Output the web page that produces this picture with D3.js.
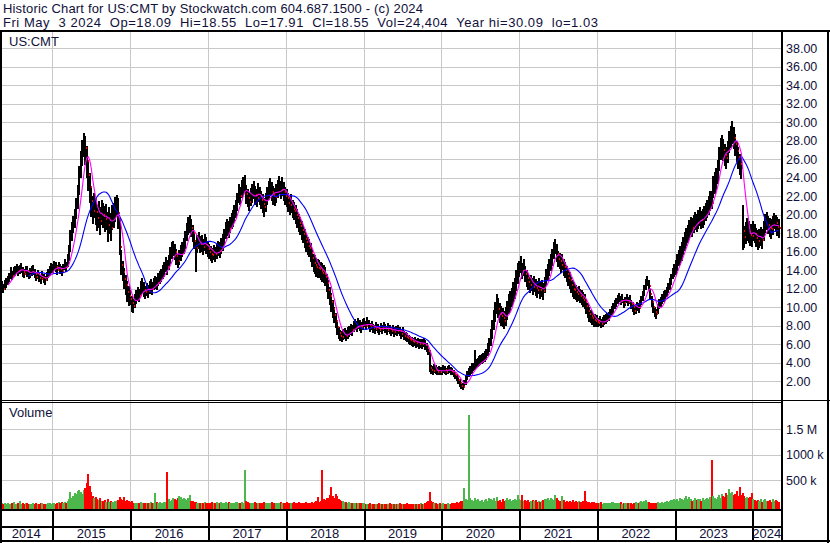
<!DOCTYPE html>
<html>
<head>
<meta charset="utf-8">
<script src="https://cdn.jsdelivr.net/npm/d3@7"></script>
<style>
  body { margin: 0; background: #fff; }
  svg { display: block; font-family: "Liberation Sans", Arial, sans-serif; }
  .lbl { fill: #10103a; }
</style>
</head>
<body>
<div id="chart"></div>
<script>
// weekly bars, Fridays from 2 May 2014 to 3 May 2024 (one line per calendar year)
var weekClose = [
  12.1,12.3,12.0,12.4,12.6,12.9,13.2,13.6,13.4,13.8,13.9,14.2,13.9,14.1,14.3,13.8,13.6,14.0,13.9,13.5,13.7,13.9,14.1,13.6,13.3,13.5,13.2,13.0,13.4,13.1,12.9,13.3,13.6,13.9,14.2,
  14.2,14.5,14.3,14.0,14.4,14.1,13.9,14.2,14.6,14.3,15.0,15.8,17.2,18.3,18.9,19.5,20.6,21.9,23.8,25.6,26.8,27.9,27.2,25.8,24.3,23.0,21.5,20.4,21.2,20.3,19.6,20.1,19.3,20.4,20.0,19.5,19.8,18.9,19.4,18.6,19.7,19.9,20.6,21.0,20.2,16.5,14.6,13.8,13.0,12.4,11.6,11.2,
  10.9,10.4,10.1,10.6,11.0,11.4,11.2,12.0,12.3,11.9,11.6,11.9,11.7,12.1,12.3,12.0,12.5,12.7,12.6,13.0,13.2,13.4,13.8,14.1,14.6,14.3,14.8,15.6,16.1,16.4,16.0,15.5,15.0,15.4,15.9,16.2,16.6,17.2,18.1,18.8,19.0,18.6,18.0,17.2,16.4,16.9,17.2,16.8,16.9,16.5,17.0,16.7,16.3,
  16.0,15.8,15.6,15.9,15.7,16.0,16.3,16.1,16.6,17.0,17.6,18.3,18.6,18.4,18.9,19.3,19.6,20.1,20.6,21.4,22.3,22.0,22.8,23.1,23.4,22.2,21.8,21.4,21.9,22.3,22.7,22.1,21.8,22.4,22.0,21.6,21.2,20.8,21.3,22.0,22.6,23.0,22.5,22.1,21.9,22.3,22.8,23.2,22.7,23.0,22.5,22.0,
  21.8,21.3,21.0,21.2,20.6,20.4,20.0,19.6,19.1,18.8,18.3,17.9,17.4,17.0,16.6,16.4,15.9,15.3,14.8,14.6,14.3,14.2,14.1,13.9,13.7,13.6,13.3,12.6,11.9,11.2,10.5,9.8,9.1,8.5,7.8,7.2,6.9,6.8,7.0,7.1,6.9,7.2,7.4,7.6,7.5,7.9,8.1,7.9,8.2,8.0,7.8,8.1,
  8.3,8.0,8.4,8.1,7.8,8.0,7.7,7.6,7.9,7.7,7.5,7.8,7.6,7.9,7.7,7.5,7.8,7.6,7.4,7.6,7.3,7.5,7.4,7.6,7.4,7.1,7.3,6.9,6.8,6.7,6.5,6.4,6.3,6.2,6.3,6.1,6.2,6.0,6.1,6.0,6.2,5.9,5.6,5.2,3.4,3.2,3.1,3.3,3.2,3.0,3.1,3.0,
  3.1,3.3,3.2,3.0,3.2,3.3,3.1,3.0,2.8,2.6,2.4,2.1,1.8,1.5,1.3,1.6,2.0,2.5,2.8,3.0,3.2,3.5,3.6,3.8,3.9,4.1,4.2,4.3,4.4,4.6,4.8,5.3,5.8,6.6,7.5,8.5,9.4,10.2,9.8,9.3,9.0,8.8,8.5,8.9,9.6,10.3,10.6,11.0,11.5,12.0,12.8,13.6,
  14.2,14.6,13.9,14.3,13.6,13.1,12.7,12.4,12.6,12.2,12.5,12.1,11.9,12.3,11.8,12.0,11.7,12.4,13.2,13.8,14.3,14.8,15.3,16.1,16.6,15.8,15.2,15.0,14.6,14.9,14.3,14.0,13.6,13.2,12.9,12.4,12.0,11.8,11.6,11.4,11.5,11.2,11.0,10.8,10.6,10.1,9.6,9.2,9.0,8.8,8.6,8.5,8.4,
  8.3,8.5,8.2,8.4,8.6,8.7,8.9,9.0,9.3,9.6,9.9,10.3,10.5,10.8,11.0,10.7,10.9,10.4,10.6,10.9,10.6,10.8,10.3,10.0,9.6,9.8,10.1,9.9,10.3,10.7,11.2,11.8,12.4,12.9,12.3,11.4,10.6,10.0,9.5,9.3,9.8,10.4,10.6,10.9,11.2,11.3,11.7,12.1,12.5,13.0,13.6,14.0,
  14.3,14.8,15.3,15.6,16.0,16.6,17.1,17.6,17.9,18.4,18.8,18.6,19.0,19.3,19.1,19.5,19.8,19.4,19.6,19.9,20.3,20.6,21.0,21.5,21.3,23.0,23.4,23.9,24.6,26.0,27.1,27.4,27.0,26.5,26.1,26.8,27.9,28.4,28.9,28.3,27.6,26.9,26.2,25.5,25.1,18.2,17.6,18.0,18.4,18.1,17.8,17.7,
  18.2,17.9,17.5,17.2,17.4,17.6,17.3,18.2,19.0,19.3,18.9,18.6,18.4,18.8,19.4,19.1,18.7,18.55
];
var weekHigh = [
  12.6,12.8,12.5,12.9,13.1,13.4,13.7,14.3,13.9,14.3,14.5,14.7,14.4,14.6,14.8,14.3,14.1,14.5,14.4,14.0,14.2,14.4,14.6,14.1,13.8,14.0,13.7,13.5,13.9,13.6,13.4,13.8,14.1,14.4,14.8,
  14.7,15.0,14.9,14.6,14.9,14.7,14.5,14.7,15.2,14.9,15.8,16.7,18.3,19.2,19.9,20.6,21.8,23.2,25.3,26.9,28.1,28.8,28.5,27.4,25.9,24.5,23.1,22.0,22.4,21.8,21.0,21.5,20.8,21.6,21.3,20.9,21.2,20.3,20.8,20.2,21.0,21.3,21.9,22.1,21.8,19.8,16.2,15.0,14.2,13.5,12.8,12.3,
  11.8,11.2,10.9,11.4,11.8,12.2,12.0,12.8,13.1,12.7,12.3,12.6,12.4,12.8,13.0,12.7,13.2,13.4,13.3,13.7,13.9,14.1,14.6,14.9,15.4,15.1,15.6,16.5,17.0,17.2,16.8,16.3,15.8,16.2,16.7,17.0,17.5,18.2,19.1,19.8,20.0,19.5,18.9,18.1,17.3,17.8,18.1,17.7,17.8,17.4,17.9,17.6,17.1,
  16.8,16.6,16.4,16.7,16.5,16.8,17.1,17.0,17.5,17.9,18.5,19.2,19.5,19.3,19.8,20.2,20.5,21.0,21.6,22.4,23.3,23.0,23.8,24.1,24.3,23.2,22.8,22.4,22.9,23.3,23.7,23.1,22.8,23.4,23.0,22.6,22.2,21.8,22.3,23.0,23.6,24.0,23.5,23.1,22.9,23.3,23.8,24.2,23.7,24.1,23.5,23.0,
  22.8,22.3,22.0,22.2,21.6,21.4,21.0,20.6,20.1,19.8,19.3,18.9,18.4,18.0,17.6,17.4,16.9,16.3,15.8,15.6,15.3,15.2,15.1,14.9,14.8,14.6,14.3,13.6,12.9,12.2,11.5,10.8,10.0,9.4,8.6,7.9,7.5,7.4,7.6,7.7,7.5,7.8,8.0,8.2,8.1,8.5,8.7,8.5,8.8,8.6,8.4,8.7,
  8.8,8.5,8.9,8.6,8.3,8.5,8.2,8.1,8.4,8.2,8.0,8.3,8.1,8.4,8.2,8.0,8.3,8.1,7.9,8.1,7.8,8.0,7.9,8.1,7.9,7.6,7.8,7.4,7.3,7.2,7.0,6.9,6.8,6.7,6.8,6.6,6.7,6.5,6.6,6.5,6.7,6.4,6.1,5.8,5.4,3.7,3.6,3.8,3.7,3.5,3.6,3.5,
  3.5,3.7,3.6,3.4,3.6,3.7,3.5,3.4,3.2,3.0,2.8,2.5,2.2,1.9,1.8,2.1,2.6,3.1,3.4,3.6,3.9,3.9,5.4,4.4,4.5,4.7,4.8,4.9,5.0,5.2,5.5,6.1,6.7,7.6,8.6,9.7,10.6,11.4,11.0,10.4,10.1,9.9,9.6,10.0,10.7,11.4,11.7,12.1,12.7,13.2,14.0,14.8,
  15.0,15.5,14.8,15.2,14.5,14.0,13.6,13.3,13.5,13.1,13.4,13.0,12.8,13.2,12.7,12.9,12.6,13.3,14.1,14.7,15.2,15.7,16.3,17.0,17.4,16.8,16.1,15.9,15.5,15.8,15.2,14.9,14.5,14.1,13.8,13.3,12.9,12.6,12.4,12.2,12.3,12.0,11.8,11.6,11.4,10.9,10.4,10.0,9.7,9.5,9.3,9.2,9.1,
  8.8,9.0,8.7,8.9,9.1,9.2,9.4,9.5,9.8,10.1,10.4,10.8,11.0,11.3,11.5,11.2,11.4,10.9,11.1,11.4,11.1,11.3,10.8,10.5,10.1,10.3,10.6,10.4,10.8,11.2,11.7,12.4,13.0,13.4,12.9,12.0,11.2,10.6,10.0,9.8,10.3,10.9,11.1,11.4,11.7,11.8,12.2,12.6,13.1,13.6,14.2,14.7,
  15.1,15.7,16.2,16.6,17.0,17.6,18.1,18.6,18.9,19.4,19.8,19.6,20.0,20.3,20.1,20.5,20.8,20.4,20.6,20.9,21.3,21.6,22.0,22.6,22.6,24.2,24.6,25.1,25.9,27.3,28.3,28.6,28.2,27.7,27.3,28.0,29.1,29.6,30.09,29.5,28.7,28.0,27.3,26.6,26.2,21.0,18.8,19.2,19.6,19.3,19.0,19.0,
  19.3,19.0,18.6,18.3,18.5,18.7,18.4,19.3,20.1,20.3,19.9,19.6,19.5,19.9,20.2,20.0,19.7,19.5
];
var weekLow = [
  11.6,11.8,11.5,11.9,12.1,12.4,12.7,13.0,12.9,13.3,13.4,13.6,13.4,13.6,13.7,13.3,13.1,13.5,13.3,13.0,13.2,13.4,13.5,13.1,12.8,13.0,12.7,12.5,12.9,12.6,12.4,12.8,13.1,13.4,13.7,
  13.7,14.0,13.8,13.5,13.9,13.6,13.4,13.7,14.0,13.8,14.3,15.0,16.0,17.2,18.0,18.6,19.5,20.6,22.1,24.0,25.3,26.2,25.4,24.0,22.6,21.3,19.8,19.0,19.6,18.9,18.2,18.6,17.8,18.9,18.6,18.1,18.3,17.0,17.9,17.2,18.3,18.6,19.2,19.7,18.5,15.6,13.5,12.8,12.0,11.3,10.5,10.1,
  10.2,9.5,9.4,9.9,10.3,10.7,10.5,11.2,11.5,11.1,10.9,11.2,11.0,11.4,11.6,11.3,11.8,12.0,11.9,12.3,12.5,12.7,13.0,13.3,13.8,13.5,14.0,14.7,15.2,15.5,15.1,14.6,14.2,14.6,15.0,15.4,15.8,16.3,17.1,17.8,18.0,17.6,17.0,16.3,13.8,15.9,16.3,15.9,16.0,15.6,16.1,15.8,15.4,
  15.2,15.0,14.8,15.1,14.9,15.2,15.5,15.3,15.7,16.1,16.7,17.4,17.7,17.5,18.0,18.4,18.7,19.2,19.6,20.4,21.3,21.0,21.8,22.1,22.3,21.2,20.8,20.4,20.9,21.3,21.7,21.1,20.8,21.4,21.0,20.6,20.2,19.8,20.3,21.0,21.6,22.0,21.5,21.1,20.9,21.3,21.8,22.2,21.7,22.0,21.5,21.0,
  20.8,20.3,20.0,20.2,19.6,19.4,19.0,18.6,18.1,17.8,17.3,16.9,16.4,16.0,15.6,15.4,14.9,14.3,13.8,13.6,13.3,13.2,13.1,12.9,12.7,12.6,12.3,11.6,10.9,10.2,9.5,8.8,8.3,7.7,7.0,6.5,6.3,6.2,6.4,6.5,6.3,6.6,6.8,7.0,6.9,7.3,7.5,7.3,7.6,7.4,7.2,7.5,
  7.8,7.5,7.9,7.6,7.3,7.5,7.2,7.1,7.4,7.2,7.0,7.3,7.1,7.4,7.2,7.0,7.3,7.1,6.9,7.1,6.8,7.0,6.9,7.1,6.9,6.6,6.8,6.4,6.3,6.2,6.0,5.9,5.8,5.7,5.8,5.6,5.7,5.5,5.6,5.5,5.7,5.4,5.1,4.8,3.0,2.8,2.7,2.9,2.8,2.6,2.7,2.6,
  2.7,2.9,2.8,2.6,2.8,2.9,2.7,2.6,2.4,2.2,2.0,1.7,1.4,1.1,1.03,1.2,1.6,2.1,2.4,2.6,2.8,3.1,3.2,3.4,3.5,3.6,3.7,3.8,3.9,4.1,4.3,4.7,5.1,5.8,6.6,7.5,8.4,9.2,8.8,8.3,8.0,7.9,7.6,8.0,8.6,9.3,9.6,10.0,10.4,10.9,11.7,12.5,
  13.3,13.7,13.0,13.4,12.7,12.2,11.8,11.5,11.7,11.3,11.6,11.2,11.0,11.4,10.9,11.1,10.8,11.5,12.3,12.9,13.4,13.9,14.4,15.2,15.7,14.9,14.3,14.1,13.7,14.0,13.4,13.1,12.7,12.3,12.0,11.5,11.1,10.9,10.8,10.6,10.7,10.4,10.2,10.0,9.8,9.3,8.8,8.4,8.3,8.1,7.9,7.8,7.8,
  7.8,8.0,7.7,7.9,8.1,8.2,8.4,8.5,8.8,9.1,9.4,9.8,10.0,10.3,10.5,10.2,10.4,9.9,10.1,10.4,10.1,10.3,9.8,9.5,9.1,9.3,9.6,9.4,9.8,10.2,10.7,11.2,11.8,12.3,11.7,10.8,10.0,9.4,8.9,8.7,9.2,9.8,10.0,10.3,10.6,10.7,11.1,11.5,11.9,12.4,13.0,13.3,
  13.5,13.9,14.4,14.6,15.0,15.6,16.1,16.6,16.9,17.4,17.8,17.6,18.0,18.3,18.1,18.5,18.8,18.4,18.6,18.9,19.3,19.6,20.0,20.4,20.6,21.8,22.2,22.7,23.3,24.7,25.9,26.2,25.8,25.3,24.9,25.6,26.7,27.2,27.7,27.1,26.4,25.7,25.0,24.3,23.9,16.2,16.4,16.8,17.2,16.9,16.6,16.5,
  17.2,16.9,16.5,16.2,16.4,16.6,16.3,17.2,18.0,18.3,17.9,17.6,17.4,17.8,18.4,18.1,17.7,17.5
];
// weekly volume, thousands of shares
var weekVolume = [
  30,45,25,40,35,50,30,25,40,60,35,30,45,80,35,40,30,50,45,30,35,25,40,30,45,35,30,50,40,35,30,25,40,45,35,
  40,55,35,45,60,50,70,45,60,50,80,120,270,140,180,250,230,280,300,260,220,300,350,450,610,380,260,180,150,170,120,100,140,90,80,100,70,120,60,80,70,60,90,80,110,170,130,100,160,90,110,80,
  60,80,50,45,55,40,50,60,45,50,40,55,45,50,60,45,55,250,70,50,60,45,55,70,60,650,120,90,110,150,130,100,140,180,160,120,150,130,110,140,200,90,80,70,60,50,45,55,40,50,60,45,50,
  50,40,60,45,55,70,50,40,60,55,45,65,50,60,40,55,45,50,60,70,55,45,60,50,700,80,60,45,55,40,50,60,45,55,40,50,45,60,40,50,55,45,60,50,40,55,45,50,60,45,55,50,
  60,45,50,40,55,60,45,50,65,40,55,50,45,60,50,40,55,70,50,60,90,160,60,80,690,120,100,140,150,200,370,180,150,220,190,120,100,80,90,60,70,50,60,45,55,40,50,45,40,55,45,50,
  40,30,35,25,40,30,20,35,25,30,40,25,30,20,35,25,30,40,25,30,20,35,30,25,40,30,35,25,30,40,25,35,30,20,30,25,35,30,40,25,30,45,60,80,270,90,60,50,40,35,30,40,
  30,40,35,25,40,30,35,45,40,50,60,55,70,80,90,350,120,100,1780,150,110,90,140,100,120,80,90,110,70,100,130,90,150,120,110,140,90,160,80,100,70,120,90,110,140,100,120,90,110,130,100,200,
  120,100,200,90,110,80,100,70,90,110,80,100,70,90,60,80,100,120,130,150,110,140,120,100,215,140,110,90,80,180,100,70,90,60,80,70,100,60,90,70,80,60,70,90,280,80,70,60,50,70,60,50,40,
  50,40,60,35,45,55,40,50,45,60,70,55,40,50,45,60,35,50,40,45,55,40,50,35,45,60,40,50,70,80,60,90,100,70,60,50,45,55,40,50,60,45,50,70,55,60,80,70,90,100,110,120,
  110,130,90,150,120,100,140,180,120,160,130,90,110,150,100,130,120,90,140,110,130,150,120,160,900,180,140,120,160,200,150,220,180,170,250,200,330,240,260,200,230,280,190,370,210,250,180,150,170,140,160,250,
  120,100,90,110,80,130,70,100,120,90,80,110,70,130,90,100,80,60
];
var priceTicks = [2,4,6,8,10,12,14,16,18,20,22,24,26,28,30,32,34,36,38];
var volumeTicks = [500, 1000, 1500];
var volumeTickLabels = ["500 k", "1000 k", "1.5 M"];
var years = [2014,2015,2016,2017,2018,2019,2020,2021,2022,2023,2024];
var shortAvg = 6, longAvg = 20;

var titleLine = "Historic Chart for US:CMT by Stockwatch.com 604.687.1500 - (c) 2024";
var quoteLine = "Fri May  3 2024  Op=18.09  Hi=18.55  Lo=17.91  Cl=18.55  Vol=24,404  Year hi=30.09  lo=1.03";

var w = 830, h = 543;
var plotRight = 781;
var priceTop = 31, priceBottom = 400;
var volTop = 403, volBottom = 509;

var svg = d3.select("#chart").append("svg").attr("width", w).attr("height", h);
svg.append("rect").attr("width", w).attr("height", h).attr("fill", "#fff");

var firstWeek = new Date(2014, 4, 2);
var weeks = weekClose.map(function(c, i) {
  return {
    date: d3.timeDay.offset(firstWeek, 7 * i),
    close: c,
    high: weekHigh[i],
    low: weekLow[i],
    vol: weekVolume[i],
    up: i === 0 ? true : c >= weekClose[i - 1]
  };
});

function movingAvg(n) {
  return weeks.map(function(d, i) {
    if (i < n - 1) return null;
    return d3.mean(weekClose.slice(i - n + 1, i + 1));
  });
}
var maShort = movingAvg(shortAvg);
var maLong = movingAvg(longAvg);

var x = d3.scaleTime().domain([new Date(2014, 3, 30), new Date(2024, 4, 14)]).range([0, plotRight]);
var yPrice = d3.scaleLinear().domain([0, 40]).range([399.5, 29.9]);
var yVol = d3.scaleLinear().domain([0, 2000]).range([505.5, 403.5]);

var yearStarts = years.slice(1).map(function(y) { return x(new Date(y, 0, 1)); });

svg.append("defs").append("clipPath").attr("id", "pclip")
  .append("rect").attr("x", 0).attr("y", priceTop).attr("width", plotRight).attr("height", priceBottom - priceTop);
svg.select("defs").append("clipPath").attr("id", "vclip")
  .append("rect").attr("x", 0).attr("y", volTop).attr("width", plotRight).attr("height", volBottom - volTop);

// grid
var grid = svg.append("g").attr("stroke", "#c8c8c8").attr("shape-rendering", "crispEdges");
grid.selectAll(".hp").data(priceTicks).enter().append("line")
  .attr("x1", 0).attr("x2", plotRight)
  .attr("y1", function(d) { return Math.round(yPrice(d)) + 0.5; })
  .attr("y2", function(d) { return Math.round(yPrice(d)) + 0.5; });
grid.selectAll(".hv").data(volumeTicks).enter().append("line")
  .attr("x1", 0).attr("x2", plotRight)
  .attr("y1", function(d) { return Math.round(yVol(d)) + 0.5; })
  .attr("y2", function(d) { return Math.round(yVol(d)) + 0.5; });
grid.selectAll(".vy").data(yearStarts).enter().append("line")
  .attr("x1", function(d) { return Math.round(d) + 0.5; })
  .attr("x2", function(d) { return Math.round(d) + 0.5; })
  .attr("y1", priceTop).attr("y2", volBottom);

// price bars (high-low), then red close marks on down weeks
var bars = svg.append("g").attr("clip-path", "url(#pclip)").attr("shape-rendering", "crispEdges");
bars.selectAll(".hl").data(weeks).enter().append("rect")
  .attr("class", "hl")
  .attr("x", function(d) { return Math.round(x(d.date)) - 1; })
  .attr("y", function(d) { return Math.round(yPrice(d.high)); })
  .attr("width", 2)
  .attr("height", function(d) { return Math.max(1, Math.round(yPrice(d.low)) - Math.round(yPrice(d.high))); })
  .attr("fill", "#000");
bars.selectAll(".cl").data(weeks.filter(function(d) { return !d.up; })).enter().append("rect")
  .attr("class", "cl")
  .attr("x", function(d) { return Math.round(x(d.date)) + 1; })
  .attr("y", function(d) { return Math.round(yPrice(d.close)) - 1; })
  .attr("width", 1).attr("height", 2)
  .attr("fill", "#ff0000");

// moving averages
function maLine(vals) {
  return d3.line()
    .defined(function(d, i) { return vals[i] !== null; })
    .x(function(d) { return x(d.date); })
    .y(function(d, i) { return yPrice(vals[i]); });
}
var maG = svg.append("g").attr("clip-path", "url(#pclip)").attr("fill", "none");
maG.append("path").datum(weeks).attr("d", maLine(maLong)).attr("stroke", "#0000ff").attr("stroke-width", 1.1);
maG.append("path").datum(weeks).attr("d", maLine(maShort)).attr("stroke", "#ff00ff").attr("stroke-width", 1.1);

// volume bars
var vb = svg.append("g").attr("clip-path", "url(#vclip)").attr("shape-rendering", "crispEdges");
vb.selectAll("rect").data(weeks).enter().append("rect")
  .attr("x", function(d) { return Math.round(x(d.date)) - 1; })
  .attr("y", function(d) { return Math.round(yVol(d.vol)); })
  .attr("width", 2)
  .attr("height", function(d) { return volBottom - Math.round(yVol(d.vol)); })
  .attr("fill", function(d) { return d.up ? "#4cb84c" : "#ff0000"; });

// frame lines
var frame = svg.append("g").attr("stroke", "#000").attr("shape-rendering", "crispEdges");
function hline(y, x1, x2, sw) { frame.append("line").attr("x1", x1).attr("x2", x2).attr("y1", y).attr("y2", y).attr("stroke-width", sw); }
function vline(xp, y1, y2, sw) { frame.append("line").attr("x1", xp).attr("x2", xp).attr("y1", y1).attr("y2", y2).attr("stroke-width", sw); }
hline(31, 0, w, 2);
hline(400.5, 0, w, 1);
hline(402.5, 0, plotRight, 1);
hline(510, 0, plotRight, 2);
hline(527, 0, plotRight, 2);
hline(541, 0, w, 2);
vline(1, 30, h, 2);
vline(828, 30, h, 2);
vline(782, 30, 542, 2);
yearStarts.forEach(function(d) { vline(Math.round(d) + 0.5, 510, 541, 2); });

// axes
var pAxis = svg.append("g").attr("transform", "translate(786,0)")
  .call(d3.axisRight(yPrice).tickValues(priceTicks).tickFormat(d3.format(".2f")).tickSize(0).tickPadding(0));
var vAxis = svg.append("g").attr("transform", "translate(786,0)")
  .call(d3.axisRight(yVol).tickValues(volumeTicks).tickSize(0).tickPadding(0)
    .tickFormat(function(d, i) { return volumeTickLabels[i]; }));
[pAxis, vAxis].forEach(function(a) {
  a.select(".domain").remove();
  a.selectAll("text").attr("fill", "#10103a").style("font-size", "12.5px")
    .style("font-family", "'Liberation Sans', Arial, sans-serif");
});

// year labels
var bounds = [0].concat(yearStarts).concat([plotRight]);
svg.append("g").selectAll("text").data(years).enter().append("text")
  .attr("class", "lbl")
  .attr("x", function(d, i) { return (bounds[i] + bounds[i + 1]) / 2; })
  .attr("y", 538)
  .attr("text-anchor", "middle")
  .style("font-size", "13px")
  .text(function(d) { return d; });

// titles
svg.append("text").attr("class", "lbl").attr("x", 3).attr("y", 13).style("font-size", "13px")
  .attr("textLength", 420).attr("lengthAdjust", "spacing").text(titleLine);
svg.append("text").attr("class", "lbl").attr("x", 3).attr("y", 27).style("font-size", "13px")
  .attr("xml:space", "preserve").style("white-space", "pre")
  .attr("textLength", 595).attr("lengthAdjust", "spacing").text(quoteLine);
svg.append("text").attr("class", "lbl").attr("x", 9).attr("y", 46).style("font-size", "13px").text("US:CMT");
svg.append("text").attr("class", "lbl").attr("x", 9).attr("y", 417).style("font-size", "13px").text("Volume");
</script>
</body>
</html>
